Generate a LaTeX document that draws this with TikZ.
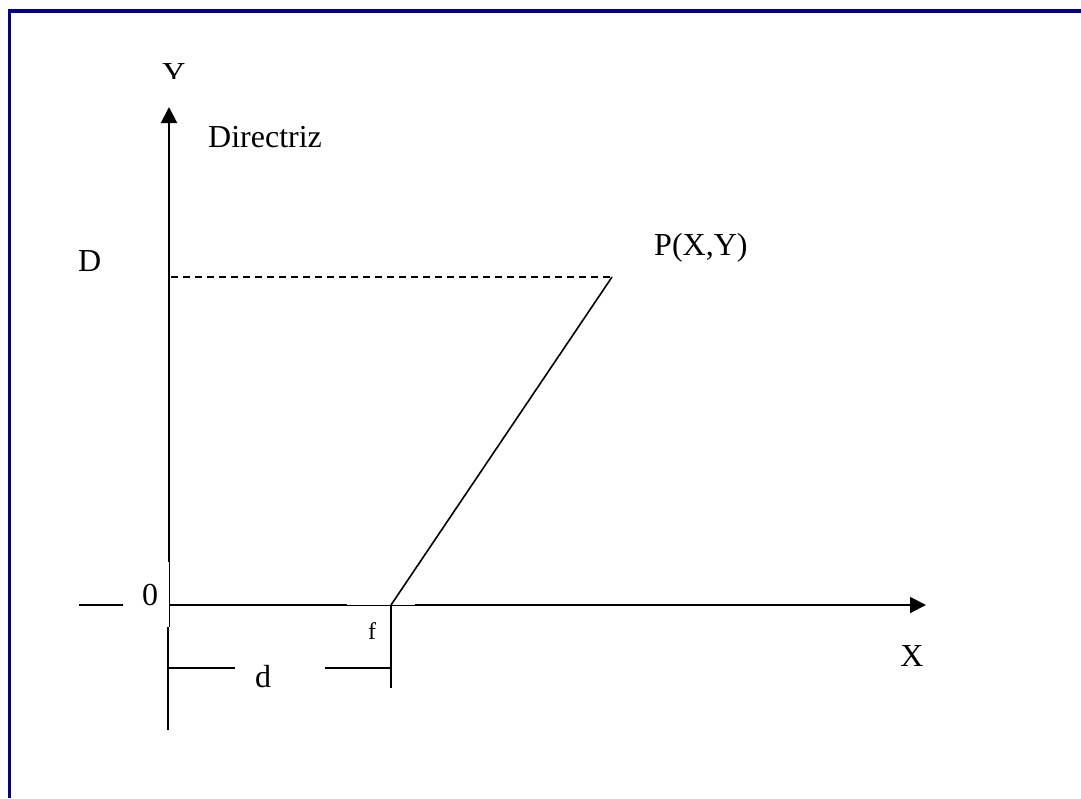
\documentclass[tikz,border=0pt]{standalone}
\usepackage{fontspec}
\setmainfont{Liberation Serif}
\usetikzlibrary{
  arrows.meta % For arrow tips
}
\definecolor{rahmenblau}{RGB}{0,0,139}

\begin{document}
\begin{tikzpicture}[
      x=1pt, y=-1pt, % Pixel coordinates, y pointing down
      >={Triangle[length=16pt, width=16pt]}, % Default arrow tip
      achse/.style={line width=2pt, black}, % Thick axis lines
      duenn/.style={line width=1pt, black}, % Thin lines
      strich/.style={line width=1.3pt, black, dash pattern=on 7pt off 5pt}, % Dashed line
      rahmen/.style={line width=3.5pt, rahmenblau}, % Frame
      txt/.style={inner sep=0pt, font=\fontsize{32}{34}\selectfont}, % Labels
    ]

    \useasboundingbox (0, 0) rectangle (1081, 798);

    % Rahmen
    \draw[rahmen] (9.5, 798) -- (9.5, 11) -- (1081, 11);

    % Koordinaten von Punkte
    \coordinate (O) at (169, 605);
    \coordinate (F) at (391, 605);
    \coordinate (P) at (612, 277);
    \coordinate (D) at (171, 277);
    \coordinate (Ytop) at (169, 107);
    \coordinate (Ymid) at (169, 562);
    \coordinate (Ylow) at (169, 627);
    \coordinate (Yend) at (168, 730);
    \coordinate (Xa) at (347, 605);
    \coordinate (Xb) at (415, 605);
    \coordinate (Xtip) at (926, 605);
    \coordinate (Xleft) at (79, 605);
    \coordinate (Xgap) at (123, 605);
    \coordinate (Fend) at (391, 688);
    \coordinate (Da) at (168, 668);
    \coordinate (Db) at (235, 668);
    \coordinate (Dc) at (325, 668);
    \coordinate (Dd) at (391, 668);

    % Achsen
    \draw[achse, ->] (Ymid) -- (Ytop);
    \draw[duenn] (Ymid) -- (Ylow);
    \draw[achse] (168, 627) -- (Yend);
    \draw[achse] (O) -- (Xa);
    \draw[duenn] (Xa) -- (Xb);
    \draw[achse, ->] (Xb) -- (Xtip);
    \draw[achse] (Xleft) -- (Xgap);

    % Punkt P und Abstaende
    \draw[strich] (D) -- (P);
    \draw[line width=1.6pt] (F) -- (P);
    \draw[achse] (F) -- (Fend);
    \draw[achse] (Da) -- (Db);
    \draw[achse] (Dc) -- (Dd);

    % Beschriftungen
    \begin{scope}
      \clip (140, 50) rectangle (220, 78);
      \node[txt, anchor=base] (ylab) at (174, 84) {Y};
    \end{scope}
    \node[txt, anchor=base west] (directriz) at (208, 147) {Directriz};
    \node[txt, anchor=base west] (dlab) at (78, 271) {D};
    \node[txt, anchor=base west] (plab) at (654, 255) {P(X,Y)};
    \node[txt, anchor=base west] (null) at (142, 605) {0};
    \node[txt, anchor=base, font=\fontsize{24}{26}\selectfont] (flab) at (372, 639) {f};
    \node[txt, anchor=base] (dist) at (263, 687) {d};
    \node[txt, anchor=base] (xlab) at (912, 666) {X};

  \end{tikzpicture}
\end{document}
